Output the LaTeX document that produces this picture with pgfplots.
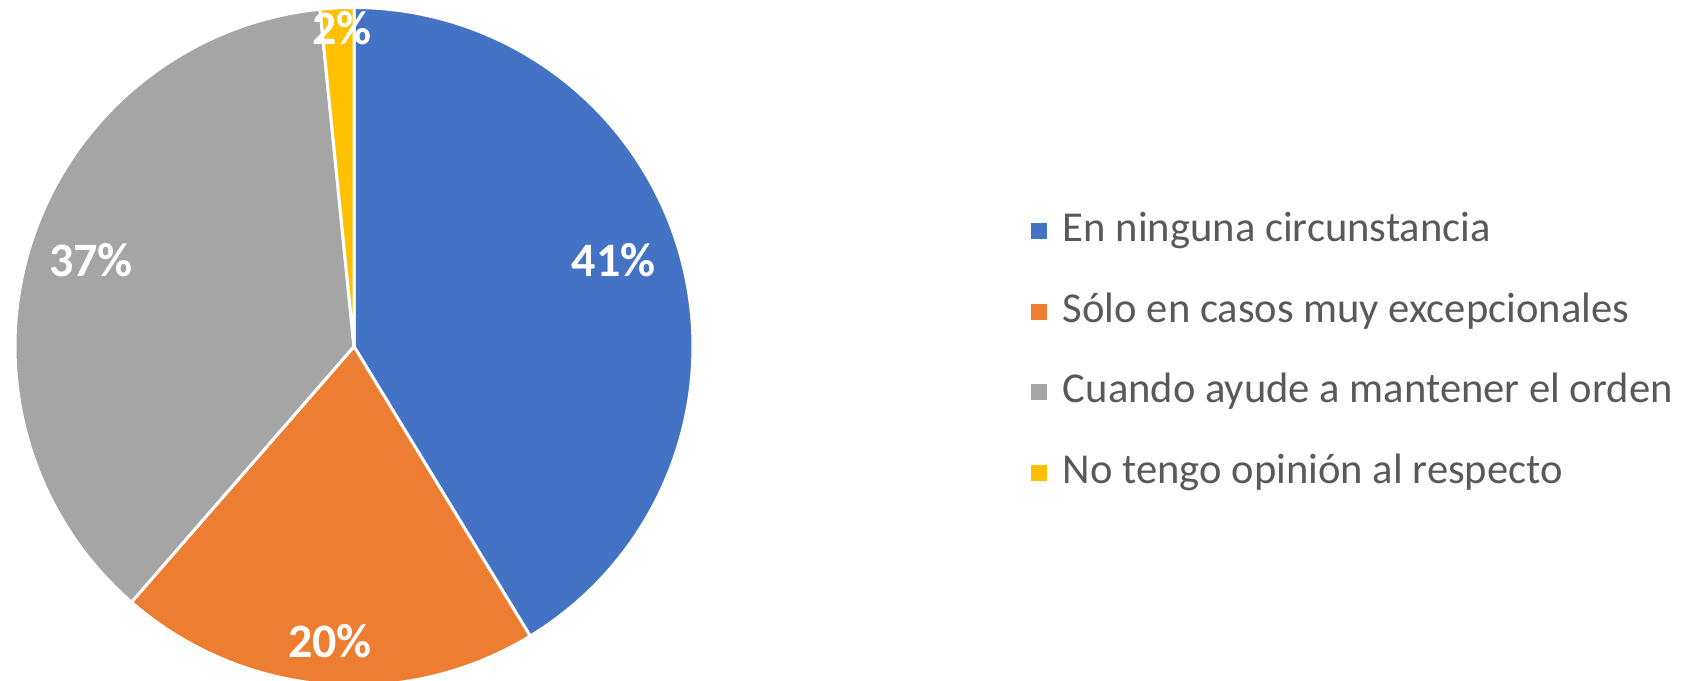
\documentclass[border=0pt]{standalone}
\usepackage{pgfplots}
\pgfplotsset{compat=1.18}
\usepackage{fontspec}
\setmainfont{Carlito}
\definecolor{cBlue}{HTML}{4472C4}
\definecolor{cOrange}{HTML}{ED7D31}
\definecolor{cGray}{HTML}{A5A5A5}
\definecolor{cYellow}{HTML}{FFC000}
\definecolor{cText}{HTML}{595959}
% shares (percent)
\def\vA{41.3}\def\vB{20.1}\def\vC{37.0}\def\vD{1.6}
\begin{document}
\begin{tikzpicture}
\path[use as bounding box] (0,0) rectangle (843pt,340pt);
\clip (0,0) rectangle (843pt,340pt);
\pgfmathsetmacro{\aA}{3.6*\vA}
\pgfmathsetmacro{\aB}{3.6*(\vA+\vB)}
\pgfmathsetmacro{\aC}{3.6*(\vA+\vB+\vC)}
\begin{axis}[
  at={(177pt,166.75pt)}, anchor=center,
  x=169.5pt, y=169.5pt,
  xmin=-1, xmax=1, ymin=-1, ymax=1,
  hide axis, clip=false,
  legend style={at={(1.489,0.492)}, anchor=west, draw=none, fill=none,
    text=cText, font=\fontsize{21.3}{25}\selectfont,
    nodes={inner sep=0pt, text height=15pt, text depth=4.5pt},
    row sep=20.7pt, column sep=8pt},
  legend cell align=left,
  legend image code/.code={\fill[#1,draw=none] (0pt,-4pt) rectangle (8pt,4pt);},
]
\addplot[fill=cBlue, draw=white, line width=1.5pt, domain=0:\aA, samples=120]
  ({sin(x)},{cos(x)}) -- (axis cs:0,0) -- cycle;
\addlegendentry{En ninguna circunstancia}
\addplot[fill=cOrange, draw=white, line width=1.5pt, domain=\aA:\aB, samples=80]
  ({sin(x)},{cos(x)}) -- (axis cs:0,0) -- cycle;
\addlegendentry{Sólo en casos muy excepcionales}
\addplot[fill=cGray, draw=white, line width=1.5pt, domain=\aB:\aC, samples=120]
  ({sin(x)},{cos(x)}) -- (axis cs:0,0) -- cycle;
\addlegendentry{Cuando ayude a mantener el orden}
\addplot[fill=cYellow, draw=white, line width=1.5pt, domain=\aC:360, samples=12]
  ({sin(x)},{cos(x)}) -- (axis cs:0,0) -- cycle;
\addlegendentry{No tengo opinión al respecto}
\begin{scope}[every node/.style={text=white, font=\bfseries\fontsize{24}{28}\selectfont}]
\node at (axis cs:0.766,0.254) {41\%};
\node at (axis cs:-0.776,0.254) {37\%};
\node at (axis cs:-0.071,-0.870) {20\%};
\node at (axis cs:-0.035,0.938) {2\%};
\end{scope}
\end{axis}
\end{tikzpicture}
\end{document}
